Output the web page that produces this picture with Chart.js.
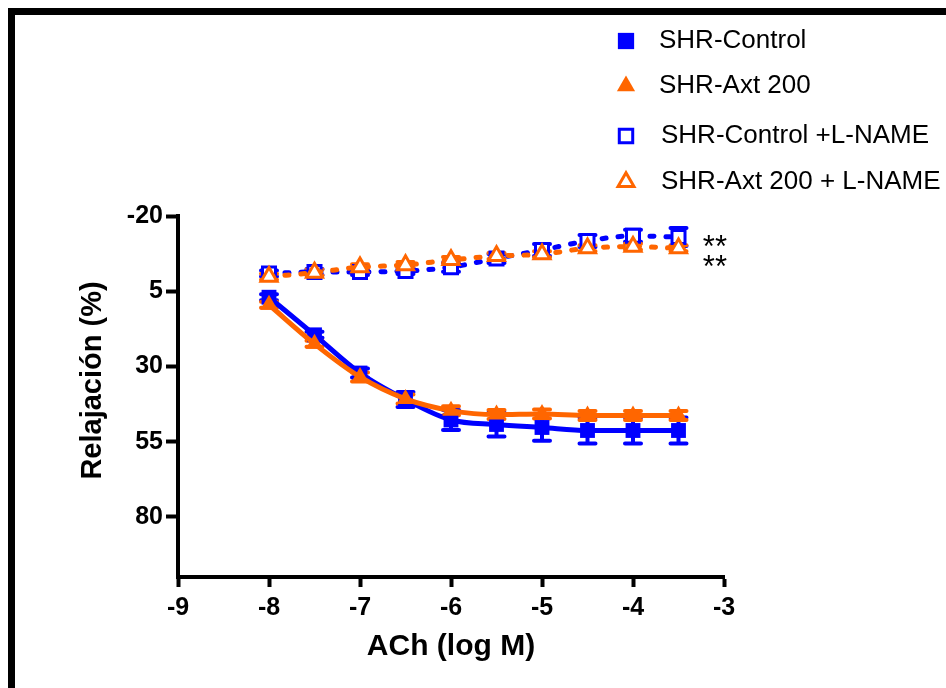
<!DOCTYPE html>
<html>
<head>
<meta charset="utf-8">
<script src="https://cdn.jsdelivr.net/npm/chart.js@4.4.1/dist/chart.umd.min.js"></script>
<style>
html,body{margin:0;padding:0;background:#fff;}
canvas{display:block;}
</style>
</head>
<body>
<canvas id="c" width="946" height="688"></canvas>
<script>
// ---- data ----
const logACh = [-8, -7.5, -7, -6.5, -6, -5.5, -5, -4.5, -4, -3.5];
const shrControl      = [7.0, 19.5, 32.2, 41.0, 47.8, 49.3, 50.3, 51.3, 51.3, 51.3];
const shrControlErr   = [1.0, 1.0, 1.5, 2.5, 3.3, 4.0, 4.4, 4.3, 4.3, 4.3];
const shrAxt          = [9.5, 22.5, 33.5, 40.8, 44.7, 46.0, 45.8, 46.3, 46.3, 46.3];
const shrAxtErr       = [1.0, 1.0, 1.5, 1.5, 1.5, 1.5, 1.5, 1.5, 1.5, 1.5];
const shrControlLN    = [-0.9, -1.4, -1.4, -1.7, -3.0, -5.9, -8.7, -11.7, -13.4, -13.0];
const shrControlLNErr = [1.0, 1.0, 1.0, 1.0, 1.5, 1.5, 2.0, 2.0, 2.0, 3.0];
const shrAxtLN        = [0.2, -1.2, -3.0, -3.7, -5.4, -6.7, -7.3, -9.3, -9.8, -9.3];
const shrAxtLNErr     = [1.0, 1.0, 1.0, 1.0, 1.0, 1.0, 1.0, 1.0, 1.0, 1.0];
const seriesLabels = ['SHR-Control', 'SHR-Axt 200', 'SHR-Control +L-NAME', 'SHR-Axt 200 + L-NAME'];
const xTicks = [-9, -8, -7, -6, -5, -4, -3];
const yTicks = [-20, 5, 30, 55, 80];
const xTitle = 'ACh (log M)';
const yTitle = 'Relajación (%)';
const sigMarks = [
  { x: -3.1, y: -11.7, text: '**' },
  { x: -3.1, y: -5.0, text: '**' }
];

// ---- styles ----
const BLUE = '#0000ff';
const ORANGE = '#ff6600';
const FONT = "'Liberation Sans', Arial, sans-serif";

function pts(ys) { return logACh.map((x, i) => ({ x: x, y: ys[i] })); }

const frame = {
  id: 'frame',
  beforeDraw(chart) {
    const ctx = chart.ctx;
    ctx.save();
    ctx.fillStyle = '#fff';
    ctx.fillRect(0, 0, chart.width, chart.height);
    ctx.fillStyle = '#000';
    ctx.fillRect(8, 8, chart.width - 8, 7);
    ctx.fillRect(8, 8, 7, chart.height - 8);
    ctx.restore();
  }
};

const errorBars = {
  id: 'errorBars',
  beforeDatasetsDraw(chart) {
    const ctx = chart.ctx, xs = chart.scales.x, ys = chart.scales.y;
    chart.data.datasets.forEach((ds) => {
      if (!ds.errs) return;
      ctx.save();
      ctx.strokeStyle = ds.borderColor;
      ctx.lineWidth = 4;
      ctx.lineCap = 'round';
      ds.data.forEach((p, j) => {
        const e = ds.errs[j];
        const px = xs.getPixelForValue(p.x);
        const t = ys.getPixelForValue(p.y - e);
        const b = ys.getPixelForValue(p.y + e);
        ctx.beginPath();
        ctx.moveTo(px, t); ctx.lineTo(px, b);
        ctx.moveTo(px - 8, t); ctx.lineTo(px + 8, t);
        ctx.moveTo(px - 8, b); ctx.lineTo(px + 8, b);
        ctx.stroke();
      });
      ctx.restore();
    });
  }
};

const annotations = {
  id: 'annotations',
  afterDraw(chart) {
    const ctx = chart.ctx, xs = chart.scales.x, ys = chart.scales.y, area = chart.chartArea;
    ctx.save();
    // y axis title
    ctx.fillStyle = '#000';
    ctx.font = 'bold 29px ' + FONT;
    ctx.textAlign = 'center';
    ctx.textBaseline = 'middle';
    ctx.translate(93, (area.top + area.bottom) / 2 - 16);
    ctx.rotate(-Math.PI / 2);
    ctx.fillText(yTitle, 0, 0);
    ctx.restore();

    // significance marks
    ctx.save();
    ctx.fillStyle = '#000';
    ctx.font = '31px ' + FONT;
    ctx.textAlign = 'center';
    ctx.textBaseline = 'middle';
    sigMarks.forEach(m => {
      ctx.fillText(m.text, xs.getPixelForValue(m.x), ys.getPixelForValue(m.y) + 7);
    });
    ctx.restore();

    // legend
    const rows = [41, 86, 136, 182];
    const radii = [11.5, 10.5, 9.5, 9.2];
    ctx.save();
    chart.data.datasets.forEach((ds, i) => {
      ctx.save();
      ctx.fillStyle = ds.pointBackgroundColor;
      ctx.strokeStyle = ds.pointBorderColor;
      ctx.lineWidth = ds.pointBorderWidth;
      const opts = { pointStyle: ds.pointStyle, radius: radii[i], borderWidth: ds.pointBorderWidth, rotation: 0 };
      Chart.helpers.drawPoint(ctx, opts, 626, rows[i]);
      ctx.restore();
      ctx.fillStyle = '#000';
      ctx.font = '26px ' + FONT;
      ctx.textAlign = 'left';
      ctx.textBaseline = 'middle';
      ctx.fillText(ds.label, i < 2 ? 659 : 661, rows[i]);
    });
    ctx.restore();
  }
};

const tickFont = { family: FONT, size: 25, weight: 'bold' };

new Chart(document.getElementById('c'), {
  type: 'line',
  data: {
    datasets: [
      {
        label: seriesLabels[0], data: pts(shrControl), errs: shrControlErr,
        borderColor: BLUE, backgroundColor: BLUE, borderWidth: 5,
        pointStyle: 'rect', pointRadius: 10.5, pointBackgroundColor: BLUE,
        pointBorderColor: BLUE, pointBorderWidth: 0,
        cubicInterpolationMode: 'monotone', order: 3
      },
      {
        label: seriesLabels[1], data: pts(shrAxt), errs: shrAxtErr,
        borderColor: ORANGE, backgroundColor: ORANGE, borderWidth: 5,
        pointStyle: 'triangle', pointRadius: 10, pointBackgroundColor: ORANGE,
        pointBorderColor: ORANGE, pointBorderWidth: 0,
        cubicInterpolationMode: 'monotone', order: 2
      },
      {
        label: seriesLabels[2], data: pts(shrControlLN), errs: shrControlLNErr,
        borderColor: BLUE, backgroundColor: '#fff', borderWidth: 5,
        borderDash: [4, 12], borderCapStyle: 'round',
        pointStyle: 'rect', pointRadius: 9.2, pointBackgroundColor: '#fff',
        pointBorderColor: BLUE, pointBorderWidth: 3,
        cubicInterpolationMode: 'monotone', order: 1
      },
      {
        label: seriesLabels[3], data: pts(shrAxtLN), errs: shrAxtLNErr,
        borderColor: ORANGE, backgroundColor: '#fff', borderWidth: 5,
        borderDash: [4, 12], borderCapStyle: 'round',
        pointStyle: 'triangle', pointRadius: 9.2, pointBackgroundColor: '#fff',
        pointBorderColor: ORANGE, pointBorderWidth: 3,
        cubicInterpolationMode: 'monotone', order: 0
      }
    ]
  },
  options: {
    responsive: false,
    animation: false,
    events: [],
    layout: { padding: { left: 60, top: 216, right: 222, bottom: 0 } },
    plugins: { legend: { display: false }, tooltip: { enabled: false } },
    scales: {
      x: {
        type: 'linear', min: -9, max: -3,
        afterBuildTicks: s => { s.ticks = xTicks.map(v => ({ value: v })); },
        afterFit: s => { s.height = 111; },
        grid: { drawOnChartArea: false, drawTicks: true, tickLength: 10, tickWidth: 4, tickColor: '#000' },
        border: { display: true, color: '#000', width: 4 },
        ticks: { color: '#000', font: tickFont, padding: 6, maxRotation: 0 },
        title: { display: true, text: xTitle, color: '#000', font: { family: FONT, size: 30, weight: 'bold' }, padding: { top: 0, bottom: 23 } }
      },
      y: {
        type: 'linear', min: -20, max: 100, reverse: true,
        afterBuildTicks: s => { s.ticks = yTicks.map(v => ({ value: v })); },
        afterFit: s => { s.width = 118; },
        grid: { drawOnChartArea: false, drawTicks: true, tickLength: 12, tickWidth: 4, tickColor: '#000' },
        border: { display: true, color: '#000', width: 4 },
        ticks: { color: '#000', font: tickFont, padding: 3 },
        title: { display: false }
      }
    }
  },
  plugins: [frame, errorBars, annotations]
});
</script>
</body>
</html>
